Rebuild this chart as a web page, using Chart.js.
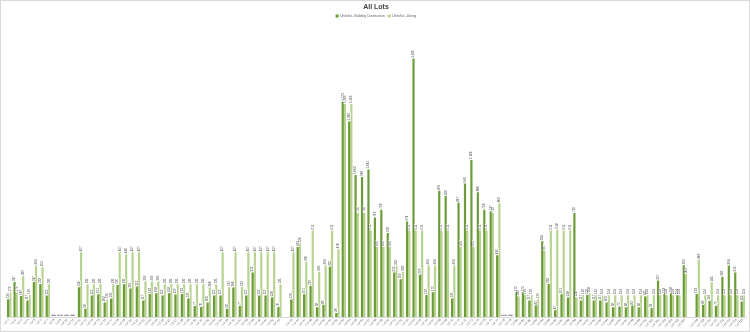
<!DOCTYPE html>
<html>
<head>
<meta charset="utf-8">
<script src="https://cdn.jsdelivr.net/npm/chart.js@4.4.1/dist/chart.umd.min.js"></script>
<style>
  body { margin: 0; background: #fff; }
  #wrap { width: 750px; height: 332px; box-sizing: border-box; border: 1px solid #d9d9d9; }
  #box { position: relative; width: 748px; height: 330px; }
</style>
</head>
<body>
<div id="wrap"><div id="box"><canvas id="chart"></canvas></div></div>
<script>
// blank categories (no data) get an empty label
const blankLots = [44, 107];
const lots = Array.from({ length: 115 }, (_, i) => blankLots.includes(i + 1) ? '' : 'Lot ' + (i + 1));

const buildingConstruction = [
  126, 247, 149, 117, 247, 233, 152, 0, 0, 0, 0, 210, 58, 152, 161, 103, 131, 226, 231, 201,
  215, 117, 163, 168, 152, 168, 159, 163, 131, 77, 70, 103, 152, 152, 58, 208, 77, 152, 315, 152,
  152, 138, 70, null, 124, 495, 161, 219, 68, 86, 355, 28, 1521, 1381, 1003, 989, 1041, 702, 758, 593,
  315, 266, 674, 1825, 299, 156, 175, 891, 856, 131, 807, 943, 1108, 880, 758, 747, 436, 0, 0, 175,
  175, 117, 82, 534, 233, 47, 161, 138, 735, 117, 156, 117, 117, 103, 68, 75, 68, 82, 68, 145,
  63, 257, 163, 168, 154, 366, null, 163, 86, 114, 79, 285, 364, 315, 110
];

const zoning = [
  173, 173, 289, 156, 364, 352, 231, 0, 0, 0, 0, 457, 231, 231, 231, 126, 231, 457, 443, 457,
  457, 250, 250, 250, 231, 231, 231, 231, 231, 231, 231, 208, 231, 457, 212, 457, 212, 457, 457, 457,
  457, 457, 231, null, 457, 520, 390, 611, 320, 364, 611, 478, 1503, 1503, 735, 735, 611, 495, 495, 495,
  362, 320, 611, 611, 611, 364, 364, 611, 611, 364, 495, 611, 495, 611, 611, 735, 803, 0, 0, 145,
  156, 156, 126, 467, 611, 618, 611, 611, 138, 156, 168, 156, 154, 154, 154, 154, 154, 154, 154, 154,
  154, 154, 154, 154, 154, 303, null, 406, 154, 245, 154, 154, 154, 154, 154
];

const FONT = '"Liberation Sans", Arial, sans-serif';

// vertical value labels above each bar
const valueLabels = {
  id: 'valueLabels',
  afterDatasetsDraw(chart) {
    const ctx = chart.ctx;
    ctx.save();
    ctx.font = '3px ' + FONT;
    ctx.textBaseline = 'middle';
    ctx.textAlign = 'left';
    chart.data.datasets.forEach((ds, i) => {
      chart.getDatasetMeta(i).data.forEach((bar, j) => {
        const v = ds.data[j];
        if (v == null) return;
        const txt = v.toLocaleString('en-US');
        const w = ctx.measureText(txt).width;
        ctx.save();
        ctx.translate(bar.x, bar.y - 1);
        ctx.rotate(-Math.PI / 2);
        ctx.fillStyle = '#ffffff';
        ctx.fillRect(-0.5, -1.6, w + 1, 3.2);
        ctx.fillStyle = '#404040';
        ctx.fillText(txt, 0, 0);
        ctx.restore();
      });
    });
    ctx.restore();
  }
};

new Chart(document.getElementById('chart'), {
  type: 'bar',
  data: {
    labels: lots,
    datasets: [
      { label: 'Units/lot - Building Construction', data: buildingConstruction, backgroundColor: '#6c9b38' },
      { label: 'Units/lot - Zoning', data: zoning, backgroundColor: '#b6d490' }
    ]
  },
  options: {
    responsive: true,
    maintainAspectRatio: false,
    animation: false,
    layout: { padding: { left: 5, right: 3, top: 0, bottom: 0 } },
    datasets: { bar: { categoryPercentage: 0.68, barPercentage: 1 } },
    plugins: {
      title: {
        display: true,
        text: 'All Lots',
        color: '#404040',
        font: { family: FONT, size: 7, weight: 'bold' },
        padding: { top: 2, bottom: 0 }
      },
      legend: {
        position: 'top',
        labels: {
          boxWidth: 3,
          boxHeight: 3,
          padding: 3,
          color: '#595959',
          font: { family: FONT, size: 3.2 }
        }
      },
      tooltip: { enabled: false }
    },
    scales: {
      x: {
        grid: { display: false, drawTicks: false },
        border: { display: true, color: '#d9d9d9' },
        ticks: {
          autoSkip: false,
          minRotation: 45,
          maxRotation: 45,
          padding: 1,
          color: '#595959',
          font: { family: FONT, size: 3 }
        },
        afterFit(scale) { scale.height = 14; }
      },
      y: {
        display: false,
        min: 0,
        max: 2043
      }
    }
  },
  plugins: [valueLabels]
});
</script>
</body>
</html>
